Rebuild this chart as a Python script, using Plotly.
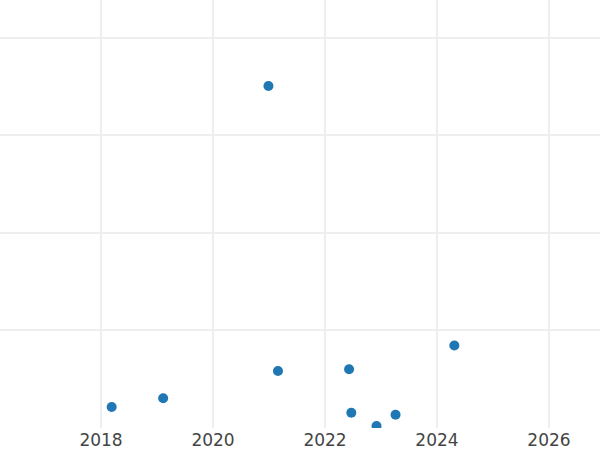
import plotly.graph_objects as go

years = [2018.19, 2019.11, 2021.16, 2020.99, 2022.43, 2022.47, 2022.92, 2023.26, 2024.31]
values = [2.06, 2.96, 5.77, 35.08, 5.95, 1.47, 0.10, 1.27, 8.38]

fig = go.Figure(
    go.Scatter(
        x=years,
        y=values,
        mode="markers",
        marker=dict(color="#1f77b4", size=10),
    )
)

fig.update_layout(
    width=600,
    height=450,
    margin=dict(l=0, r=0, t=0, b=22),
    plot_bgcolor="white",
    paper_bgcolor="white",
    showlegend=False,
    font=dict(family="DejaVu Sans, sans-serif", size=17, color="#444"),
)
fig.update_xaxes(
    range=[2016.196, 2026.911],
    dtick=2,
    tick0=2018,
    showgrid=True,
    gridcolor="#eeeeee",
    gridwidth=1.5,
    zeroline=False,
    showline=False,
    ticks="",
)
fig.update_yaxes(
    range=[-0.1, 43.92],
    dtick=10,
    tick0=0,
    showgrid=True,
    gridcolor="#eeeeee",
    gridwidth=1.5,
    zeroline=False,
    showticklabels=False,
    ticks="",
)

# the page body has an 8px margin by default; drop it so the figure sits at the corner
fig.write_html(
    "out.html",
    config={"displayModeBar": False},
    post_script="document.body.style.margin='0';document.body.style.overflow='hidden';",
)
